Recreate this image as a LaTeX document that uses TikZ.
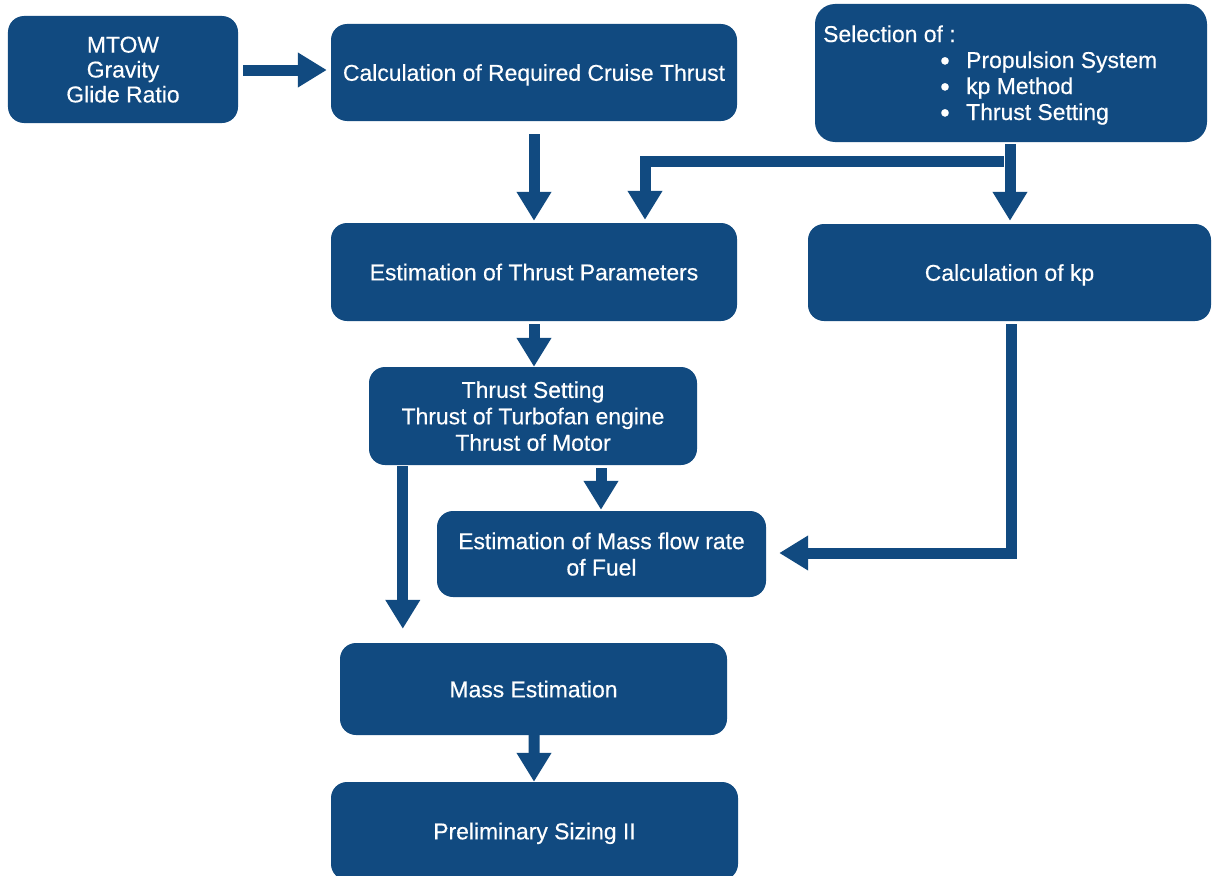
\documentclass[tikz,border=0pt]{standalone}
\usepackage{fontspec}
\setmainfont{Liberation Sans}[BoldFont=Liberation Sans,BoldFeatures={FakeBold=0.4}]
\usetikzlibrary{arrows.meta,calc}
\definecolor{navy}{RGB}{17,74,128}
\begin{document}
\begin{tikzpicture}[x=1bp,y=-1bp,
  box/.style={fill=navy,draw=none,rounded corners=16bp,inner sep=0pt,text=white,align=center,
    text depth=0pt,font=\fontsize{23}{26.5}\selectfont\bfseries},
  lbl/.style={inner sep=0pt,text=white,font=\fontsize{23}{26.5}\selectfont\bfseries},
  bul/.style={lbl,anchor=base,scale=1.2},
  arr/.style={draw=navy,line width=11bp,line join=miter,-{Triangle[length=29bp,width=33bp]}}]
\clip (0,0) rectangle (1212,876);
\fill[white] (0,0) rectangle (1212,876);
% boxes
\node[box,minimum width=230bp,minimum height=107bp,text depth=-3bp,font=\fontsize{23}{25}\selectfont\bfseries] (mtow) at (123,69.5) {MTOW\\Gravity\\Glide Ratio};
\node[box,minimum width=406bp,minimum height=97bp] (calc) at (534,72.5) {Calculation of Required Cruise Thrust};
\node[box,minimum width=392bp,minimum height=138bp,rounded corners=20bp] (sel) at (1011,73) {};
\node[lbl,anchor=base west] (selt) at (823,42) {Selection of :};
\node[bul] (b1) at (945,70) {\textbullet};
\node[bul] (b2) at (945,96) {\textbullet};
\node[bul] (b3) at (945,122) {\textbullet};
\node[lbl,anchor=base west] (s1) at (966,68) {Propulsion System};
\node[lbl,anchor=base west] (s2) at (966,94) {kp Method};
\node[lbl,anchor=base west] (s3) at (966,120) {Thrust Setting};
\node[box,minimum width=406bp,minimum height=98bp] (est) at (534,272) {Estimation of Thrust Parameters};
\node[box,minimum width=403bp,minimum height=97bp] (kp) at (1009.5,272.5) {Calculation of kp};
\node[box,minimum width=328bp,minimum height=98bp] (ts) at (533,416) {Thrust Setting\\Thrust of Turbofan engine\\Thrust of Motor};
\node[box,minimum width=329bp,minimum height=86bp] (mf) at (601.5,554) {Estimation of Mass flow rate\\of Fuel};
\node[box,minimum width=387bp,minimum height=92bp] (me) at (533.5,689) {Mass Estimation};
\node[box,minimum width=407bp,minimum height=98bp] (pre) at (534.5,831) {Preliminary Sizing II};
% connectors
\draw[arr] ($(mtow.east)+(5,0.5)$) -- ($(calc.west |- mtow.east)+(-4,0.5)$);
\draw[arr] ($(calc.south)+(0,13)$) -- ($(est.north)+(0,-2)$);
\draw[arr] ($(sel.south)+(-1,2)$) -- ($(sel.south |- kp.north)+(-1,-3)$);
\coordinate (br) at ($(sel.south)+(-7,19)$);
\draw[arr] (br) -| ($(est.north)+(111,-3)$);
\draw[arr] ($(est.south)+(0,3)$) -- (est.south |- ts.north);
\draw[arr] ($(mf.north |- ts.south)+(-0.5,3)$) -- ($(mf.north)+(-0.5,-1)$);
\draw[arr] ($(ts.south west)+(34,1)$) -- ($(ts.south west |- me.north)+(34,-14)$);
\draw[arr] ($(kp.south)+(1.5,3)$) |- ($(mf.east)+(13,-1)$);
\draw[arr] ($(me.south)+(0.5,0)$) -- ($(pre.north)+(-0.5,0)$);
\end{tikzpicture}
\end{document}
